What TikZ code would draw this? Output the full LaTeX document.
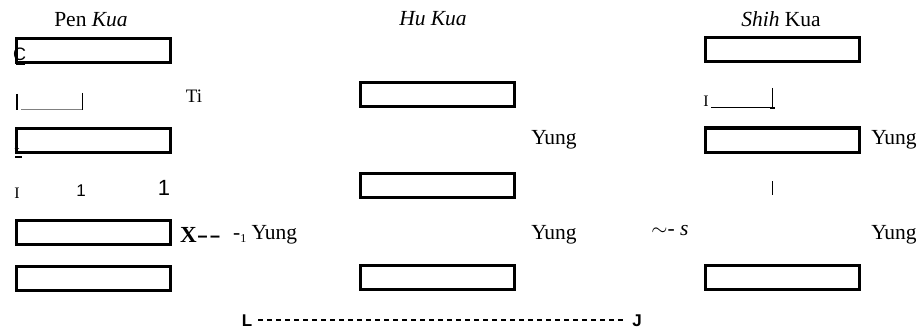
\documentclass[tikz,border=0pt]{standalone}
\usepackage{fontspec}
\setmainfont{Liberation Serif}
\setsansfont{Liberation Sans}
\begin{document}
\begin{tikzpicture}[x=1pt,y=-1pt,
  line/.style={draw=black,line width=3pt,minimum width=154pt,minimum height=24pt,inner sep=0pt},
  lbl/.style={font=\fontsize{21.5}{24}\selectfont,inner sep=0pt},
  tiny/.style={font=\fontsize{16}{18}\selectfont,inner sep=0pt},
  brk/.style={font=\sffamily\bfseries\fontsize{17}{19}\selectfont,inner sep=0pt,anchor=base,text depth=0pt}]
\useasboundingbox (0,0) rectangle (922,329);
% Pen Kua
\node[lbl] (pen) at (91,20) {Pen \textit{Kua}};
\node[line] (p1) at (93,50.5) {};
\node[line] (p3) at (93,140.5) {};
\node[line] (p5) at (93,232.5) {};
\node[line] (p6) at (93,278) {};
\node[font=\sffamily\fontsize{18}{20}\selectfont,inner sep=0pt,anchor=west] (pc) at (13,54) {C};
\draw[line width=2.5pt] (16,64) -- (25,64);
\draw[line width=1.8pt] (17,94) -- (17,110);
\draw[line width=0.8pt,gray] (21,109) -- (82,109);
\draw[line width=1.2pt] (82.5,93) -- (82.5,110);
\node[lbl,font=\fontsize{19}{22}\selectfont] (ti) at (194,96) {Ti};
\node[font=\sffamily\fontsize{10}{11}\selectfont,inner sep=0pt] (p1a) at (17,146) {1};
\draw[line width=2.5pt] (15,157) -- (22,157);
\node[tiny] (pI) at (17,193) {I};
\node[tiny,font=\sffamily\fontsize{17}{18}\selectfont] (pa) at (81,191) {1};
\node[tiny,font=\sffamily\fontsize{22}{24}\selectfont] (pb) at (164,188) {1};
\node[lbl,anchor=west,font=\bfseries\fontsize{23}{26}\selectfont] (px) at (180,235) {X\scalebox{1.5}[1]{-}\hspace{1pt}\scalebox{1.5}[1]{-}};
\node[lbl,anchor=west] (py) at (233,235) {-\raisebox{-3pt}{\fontsize{12}{13}\selectfont 1} Yung};
% Hu Kua
\node[lbl] (hu) at (433,19) {\textit{Hu Kua}};
\node[line] (h1) at (437,95) {};
\node[line] (h2) at (437,185) {};
\node[line] (h3) at (437,277) {};
\node[lbl] (hy1) at (554,140) {Yung};
\node[lbl] (hy2) at (554,235) {Yung};
% Shih Kua
\node[lbl] (shih) at (781,19) {\textit{Shih} Kua};
\node[line] (s1) at (782,50) {};
\node[line] (s3) at (782,140) {};
\node[line] (s6) at (782,277) {};
\node[tiny] (sI) at (706,101) {I};
\draw[line width=0.8pt] (711,107) -- (772,107);
\draw[line width=1.8pt] (772.5,88) -- (772.5,108);
\draw[line width=2pt] (770,108) -- (775,108);
\draw[line width=0.6pt] (772,181) -- (772,195);
\node[lbl] (sy1) at (894,140) {Yung};
\node[lbl] (sy2) at (894,235) {Yung};
\node[lbl] (ss) at (670,231) {$\sim$- \textit{s}};
\draw[line width=0.7pt] (705,269) -- (705,281);
% bottom bracket
\node[brk] (bl) at (247,326) {L};
\node[brk] (bj) at (637,326) {J};
\draw[line width=1.3pt,dash pattern=on 4.5pt off 4.5pt,shorten >=5pt] (bl.base east) ++(6,-6) coordinate (dl) -- (bj.west |- dl);
\end{tikzpicture}
\end{document}
